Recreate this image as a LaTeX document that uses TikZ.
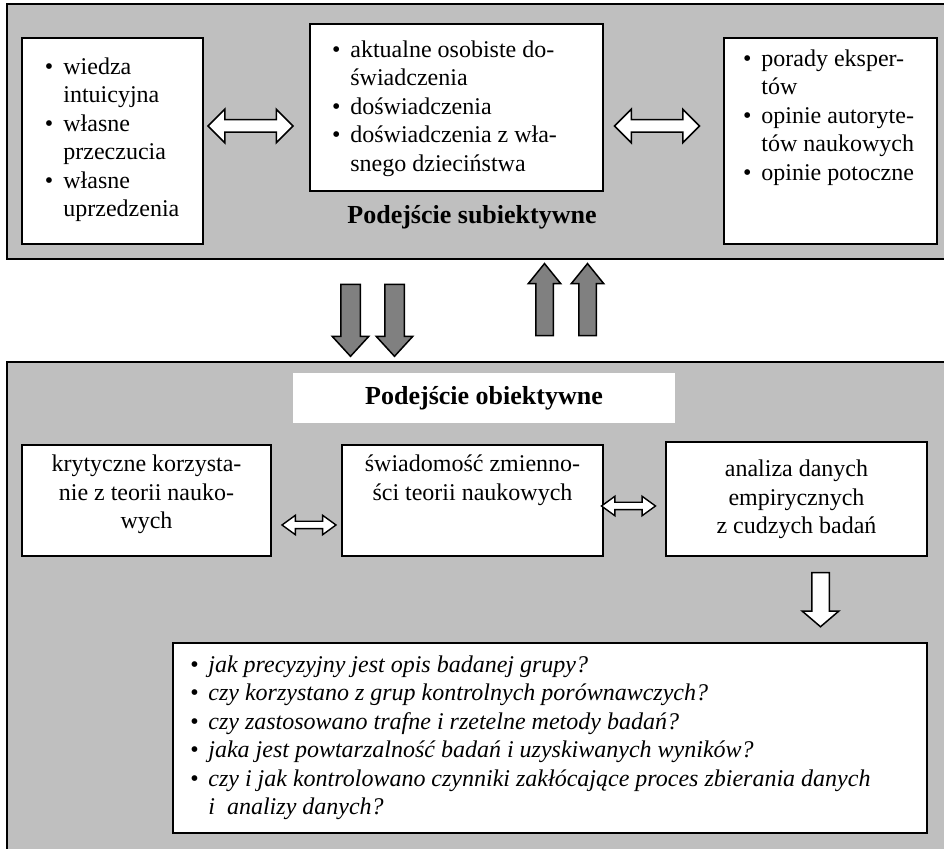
\documentclass[tikz,border=0pt]{standalone}
\usepackage{fontspec}
\setmainfont{Liberation Serif}
\usetikzlibrary{shapes.arrows}

\definecolor{panelgray}{gray}{0.75}
\definecolor{arrowgray}{gray}{0.5}

\newcommand{\bodysize}{\fontsize{12pt}{14.25pt}\selectfont}
\newcommand{\headsize}{\fontsize{13pt}{15pt}\selectfont\bfseries}
% box body: width, height, top padding, left padding, content
\newcommand{\listbox}[5]{\begin{minipage}[c][#2][t]{#1}\vspace*{#3}\noindent\hspace*{#4}#5\end{minipage}}
% box body with centred lines: width, height, top padding, content
\newcommand{\centbox}[4]{\begin{minipage}[c][#2][t]{#1}\vspace*{#3}\centering\strut #4\end{minipage}}
% bulleted list with hanging continuation lines
\newcommand{\blist}[1]{\begin{tabular}[t]{@{}l@{\hspace{5pt}}l@{}}#1\end{tabular}}

\tikzset{
  panel/.style={draw=black, fill=panelgray, line width=1pt},
  wbox/.style={draw=black, fill=white, line width=0.9pt, inner sep=0pt},
  heading/.style={font=\headsize, inner sep=0pt},
  % block arrows: inner ysep is half the shaft, minimum width the head
  blockarrow/.style={draw=black, line width=0.75pt, inner xsep=0pt},
  bigdarrow/.style={blockarrow, double arrow, fill=white, inner ysep=2.75pt,
    double arrow tip angle=90, minimum height=42.5pt, minimum width=16pt, double arrow head extend=5.25pt},
  smalldarrow/.style={blockarrow, double arrow, fill=white, line width=0.7pt, inner ysep=1.5pt,
    double arrow tip angle=72, minimum height=27pt, minimum width=9pt, double arrow head extend=3pt},
  downarrow/.style={blockarrow, single arrow, fill=arrowgray, inner ysep=4.5pt,
    rotate=-90, single arrow tip angle=85, minimum height=36pt, minimum width=17.5pt, single arrow head extend=4.25pt},
  uparrow/.style={blockarrow, single arrow, fill=arrowgray, inner ysep=4pt,
    rotate=90, single arrow tip angle=78, minimum height=36pt, minimum width=15.5pt, single arrow head extend=3.75pt},
  whitedown/.style={blockarrow, single arrow, fill=white, inner ysep=4pt,
    rotate=-90, single arrow tip angle=99, minimum height=27pt, minimum width=17.5pt, single arrow head extend=4.75pt},
}

\begin{document}
\begin{tikzpicture}[x=0.5pt, y=-0.5pt, font=\bodysize]
\useasboundingbox (0,0) rectangle (944,849);
\clip (0,0) rectangle (944,849);

% subjective approach panel
\draw[panel] (7,4) rectangle (960,259);
\node[wbox] (intuition) at (112.5,141)
  {\listbox{90.5pt}{103pt}{8.25pt}{11.5pt}{\blist{%
    \textbullet & wiedza\\ & intuicyjna\\
    \textbullet & własne\\ & przeczucia\\
    \textbullet & własne\\ & uprzedzenia}}};
\node[wbox] (experience) at (456.5,107.5)
  {\listbox{146.5pt}{83.5pt}{6.75pt}{11pt}{\blist{%
    \textbullet & aktualne osobiste do-\\ & świadczenia\\
    \textbullet & doświadczenia\\
    \textbullet & doświadczenia z wła-\\ & snego dzieciństwa}}};
\node[wbox] (opinions) at (830.5,141)
  {\listbox{106.5pt}{103pt}{4.25pt}{9.5pt}{\blist{%
    \textbullet & porady eksper-\\ & tów\\
    \textbullet & opinie autoryte-\\ & tów naukowych\\
    \textbullet & opinie potoczne}}};
\node[heading] (subjective) at (472,217) {Podejście subiektywne};

\node[bigdarrow] (sa1) at (250.5,126) {};
\node[bigdarrow] (sa2) at (657,126) {};

% arrows between the two approaches
\node[downarrow] (down1) at (350.5,315) {};
\node[downarrow] (down2) at (394.5,315) {};
\node[uparrow] (up1) at (544.5,305) {};
\node[uparrow] (up2) at (587.5,305) {};

% objective approach panel
\draw[panel] (7,362) rectangle (960,880);
\node[fill=white, inner sep=0pt, minimum width=191pt, minimum height=25pt,
      font=\headsize] (objective) at (484,398) {Podejście obiektywne};

\node[wbox] (critical) at (146.5,500.5)
  {\centbox{124.5pt}{55.5pt}{3.5pt}{krytyczne korzysta-\\nie z teorii nauko-\\wych}};
\node[wbox] (variability) at (472.5,500.5)
  {\centbox{130.5pt}{55.5pt}{3.5pt}{świadomość zmienno-\\ści teorii naukowych}};
\node[wbox] (empirical) at (796.5,499)
  {\centbox{130.5pt}{57pt}{7.5pt}{analiza danych\\empirycznych\\z cudzych badań}};

\node[smalldarrow] (oa1) at (309,525) {};
\node[smalldarrow] (oa2) at (628.5,506) {};

\node[whitedown] (toquestions) at (820.5,596) {};

\node[wbox] (questions) at (550,738)
  {\begin{minipage}[c][95pt][c]{377pt}\noindent\hspace*{8.5pt}\itshape\blist{%
    \textbullet & jak precyzyjny jest opis badanej grupy?\\
    \textbullet & czy korzystano z grup kontrolnych porównawczych?\\
    \textbullet & czy zastosowano trafne i rzetelne metody badań?\\
    \textbullet & jaka jest powtarzalność badań i uzyskiwanych wyników?\\
    \textbullet & czy i jak kontrolowano czynniki zakłócające proces zbierania danych\\
    & i~~analizy danych?}\end{minipage}};
\end{tikzpicture}
\end{document}
